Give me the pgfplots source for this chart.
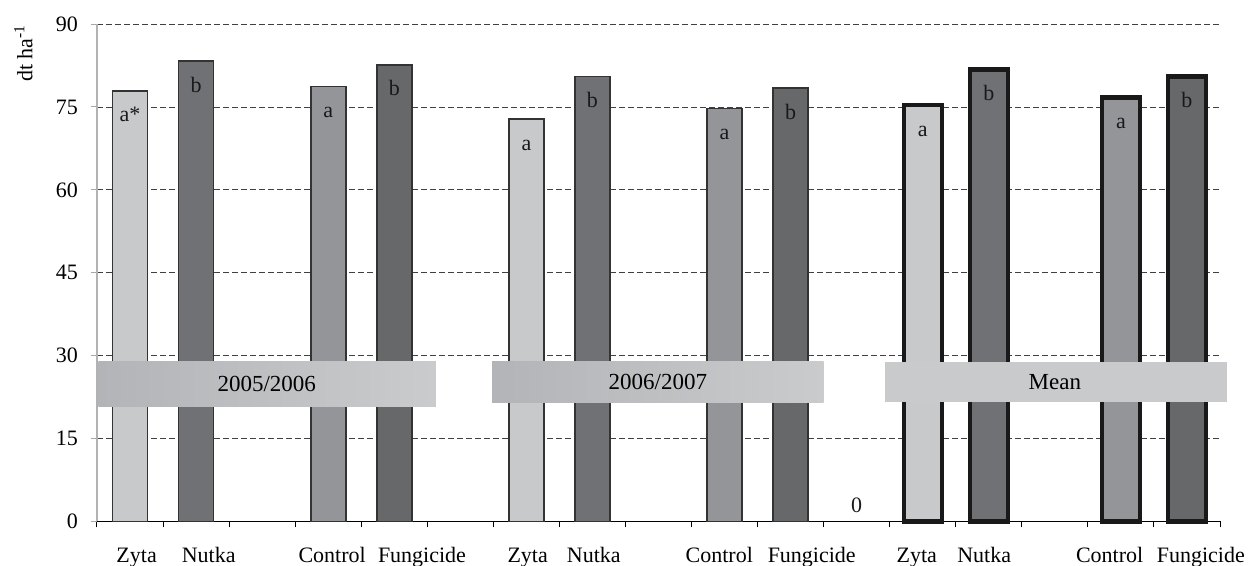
\documentclass[border=0pt]{standalone}
\usepackage{fontspec}
\setmainfont{Liberation Serif}
\usepackage{graphicx}
\usepackage{pgfplots}
\pgfplotsset{compat=1.18}
\newcommand\ff{\fontsize{11}{13}\selectfont}
\newcommand\fb{\fontsize{11.5}{13.5}\selectfont}
\definecolor{cZ}{HTML}{C8C9CB}
\definecolor{cN}{HTML}{707175}
\definecolor{cC}{HTML}{939598}
\definecolor{cF}{HTML}{67686A}
\definecolor{boxL}{HTML}{B3B4B7}
\definecolor{boxR}{HTML}{CACBCD}
\definecolor{boxM}{HTML}{C9CACC}
\begin{document}
\begin{tikzpicture}[every node/.append style={font=\ff}]
\begin{axis}[
  scale only axis, width=561.5pt, height=248.75pt,
  xmin=-0.5, xmax=16.5, ymin=0, ymax=90,
  ytick={0,15,...,90},
  xtick={0.10,1.19,3.06,4.42,6.02,7.02,8.92,10.32,11.91,12.93,14.83,16.21},
  xticklabels={Zyta,Nutka,Control,Fungicide,Zyta,Nutka,Control,Fungicide,Zyta,Nutka,Control,Fungicide},
  minor xtick={-0.5,0.5,...,16.5},
  major x tick style={draw=none},
  minor x tick style={black, line width=0.5pt},
  y tick style={gray!70, line width=0.5pt},
  axis x line*=bottom, axis y line*=left,
  axis line style={-},
  x axis line style={black, line width=0.6pt},
  y axis line style={gray!60, line width=0.6pt},
  tick align=outside,
  major tick length=3pt, minor tick length=3pt,
  ymajorgrids,
  grid style={black!75, line width=0.4pt, dash pattern=on 2.8pt off 1.7pt},
  /pgf/number format/assume math mode=true,
  ticklabel style={font=\ff},
  xticklabel style={anchor=base, yshift=-17.5pt},
  yticklabel style={xshift=-3pt},
  nodes near coords style={anchor=base, yshift=-15.5pt, text=black!90, font=\ff},
  clip=false,
]
% 2005/2006 and 2006/2007
\addplot[ybar, bar width=17.5pt, bar shift=0pt, fill=cZ, draw=black!80, line width=0.8pt,
  nodes near coords, point meta=explicit symbolic]
  coordinates {(0,77.9)[a*] (6,72.8)[a]};
\addplot[ybar, bar width=17.5pt, bar shift=0pt, fill=cN, draw=black!80, line width=0.8pt,
  nodes near coords, point meta=explicit symbolic]
  coordinates {(1,83.3)[b] (7,80.5)[b]};
\addplot[ybar, bar width=17.5pt, bar shift=0pt, fill=cC, draw=black!80, line width=0.8pt,
  nodes near coords, point meta=explicit symbolic]
  coordinates {(3,78.7)[a] (9,74.7)[a]};
\addplot[ybar, bar width=17.5pt, bar shift=0pt, fill=cF, draw=black!80, line width=0.8pt,
  nodes near coords, point meta=explicit symbolic]
  coordinates {(4,82.6)[b] (10,78.4)[b]};
% Mean
\addplot[ybar, bar width=19pt, bar shift=0pt, fill=cZ, draw=black!90, line width=2.2pt,
  nodes near coords, point meta=explicit symbolic]
  coordinates {(12,75.3)[a]};
\addplot[ybar, bar width=19pt, bar shift=0pt, fill=cN, draw=black!90, line width=2.2pt,
  nodes near coords, point meta=explicit symbolic]
  coordinates {(13,81.8)[b]};
\addplot[ybar, bar width=19pt, bar shift=0pt, fill=cC, draw=black!90, line width=2.2pt,
  nodes near coords, point meta=explicit symbolic]
  coordinates {(15,76.7)[a]};
\addplot[ybar, bar width=19pt, bar shift=0pt, fill=cF, draw=black!90, line width=2.2pt,
  nodes near coords, point meta=explicit symbolic]
  coordinates {(16,80.5)[b]};
% zero value label
\node[text=black!90] at (axis cs:11,3) {0};
% period boxes
\path[left color=boxL, right color=boxR, draw=none] (axis cs:-0.48,20.8) rectangle (axis cs:4.63,28.9);
\node[font=\fb] at (axis cs:2.07,24.85) {2005/2006};
\path[left color=boxL, right color=boxR, draw=none] (axis cs:5.48,21.6) rectangle (axis cs:10.5,28.9);
\node[font=\fb] at (axis cs:7.99,25.25) {2006/2007};
\path[fill=boxM, draw=none] (axis cs:11.43,21.6) rectangle (axis cs:16.6,28.9);
\node[font=\fb] at (axis cs:14.0,25.25) {Mean};
% y axis label
\node[anchor=east, inner sep=0pt] at ([xshift=-32pt]rel axis cs:0,0.941) {\rotatebox{90}{dt ha\textsuperscript{-1}}};
\end{axis}
\pgfresetboundingbox
\path[use as bounding box] (-48.5pt,-22.25pt) rectangle (576pt,260.75pt);
\end{tikzpicture}
\end{document}
